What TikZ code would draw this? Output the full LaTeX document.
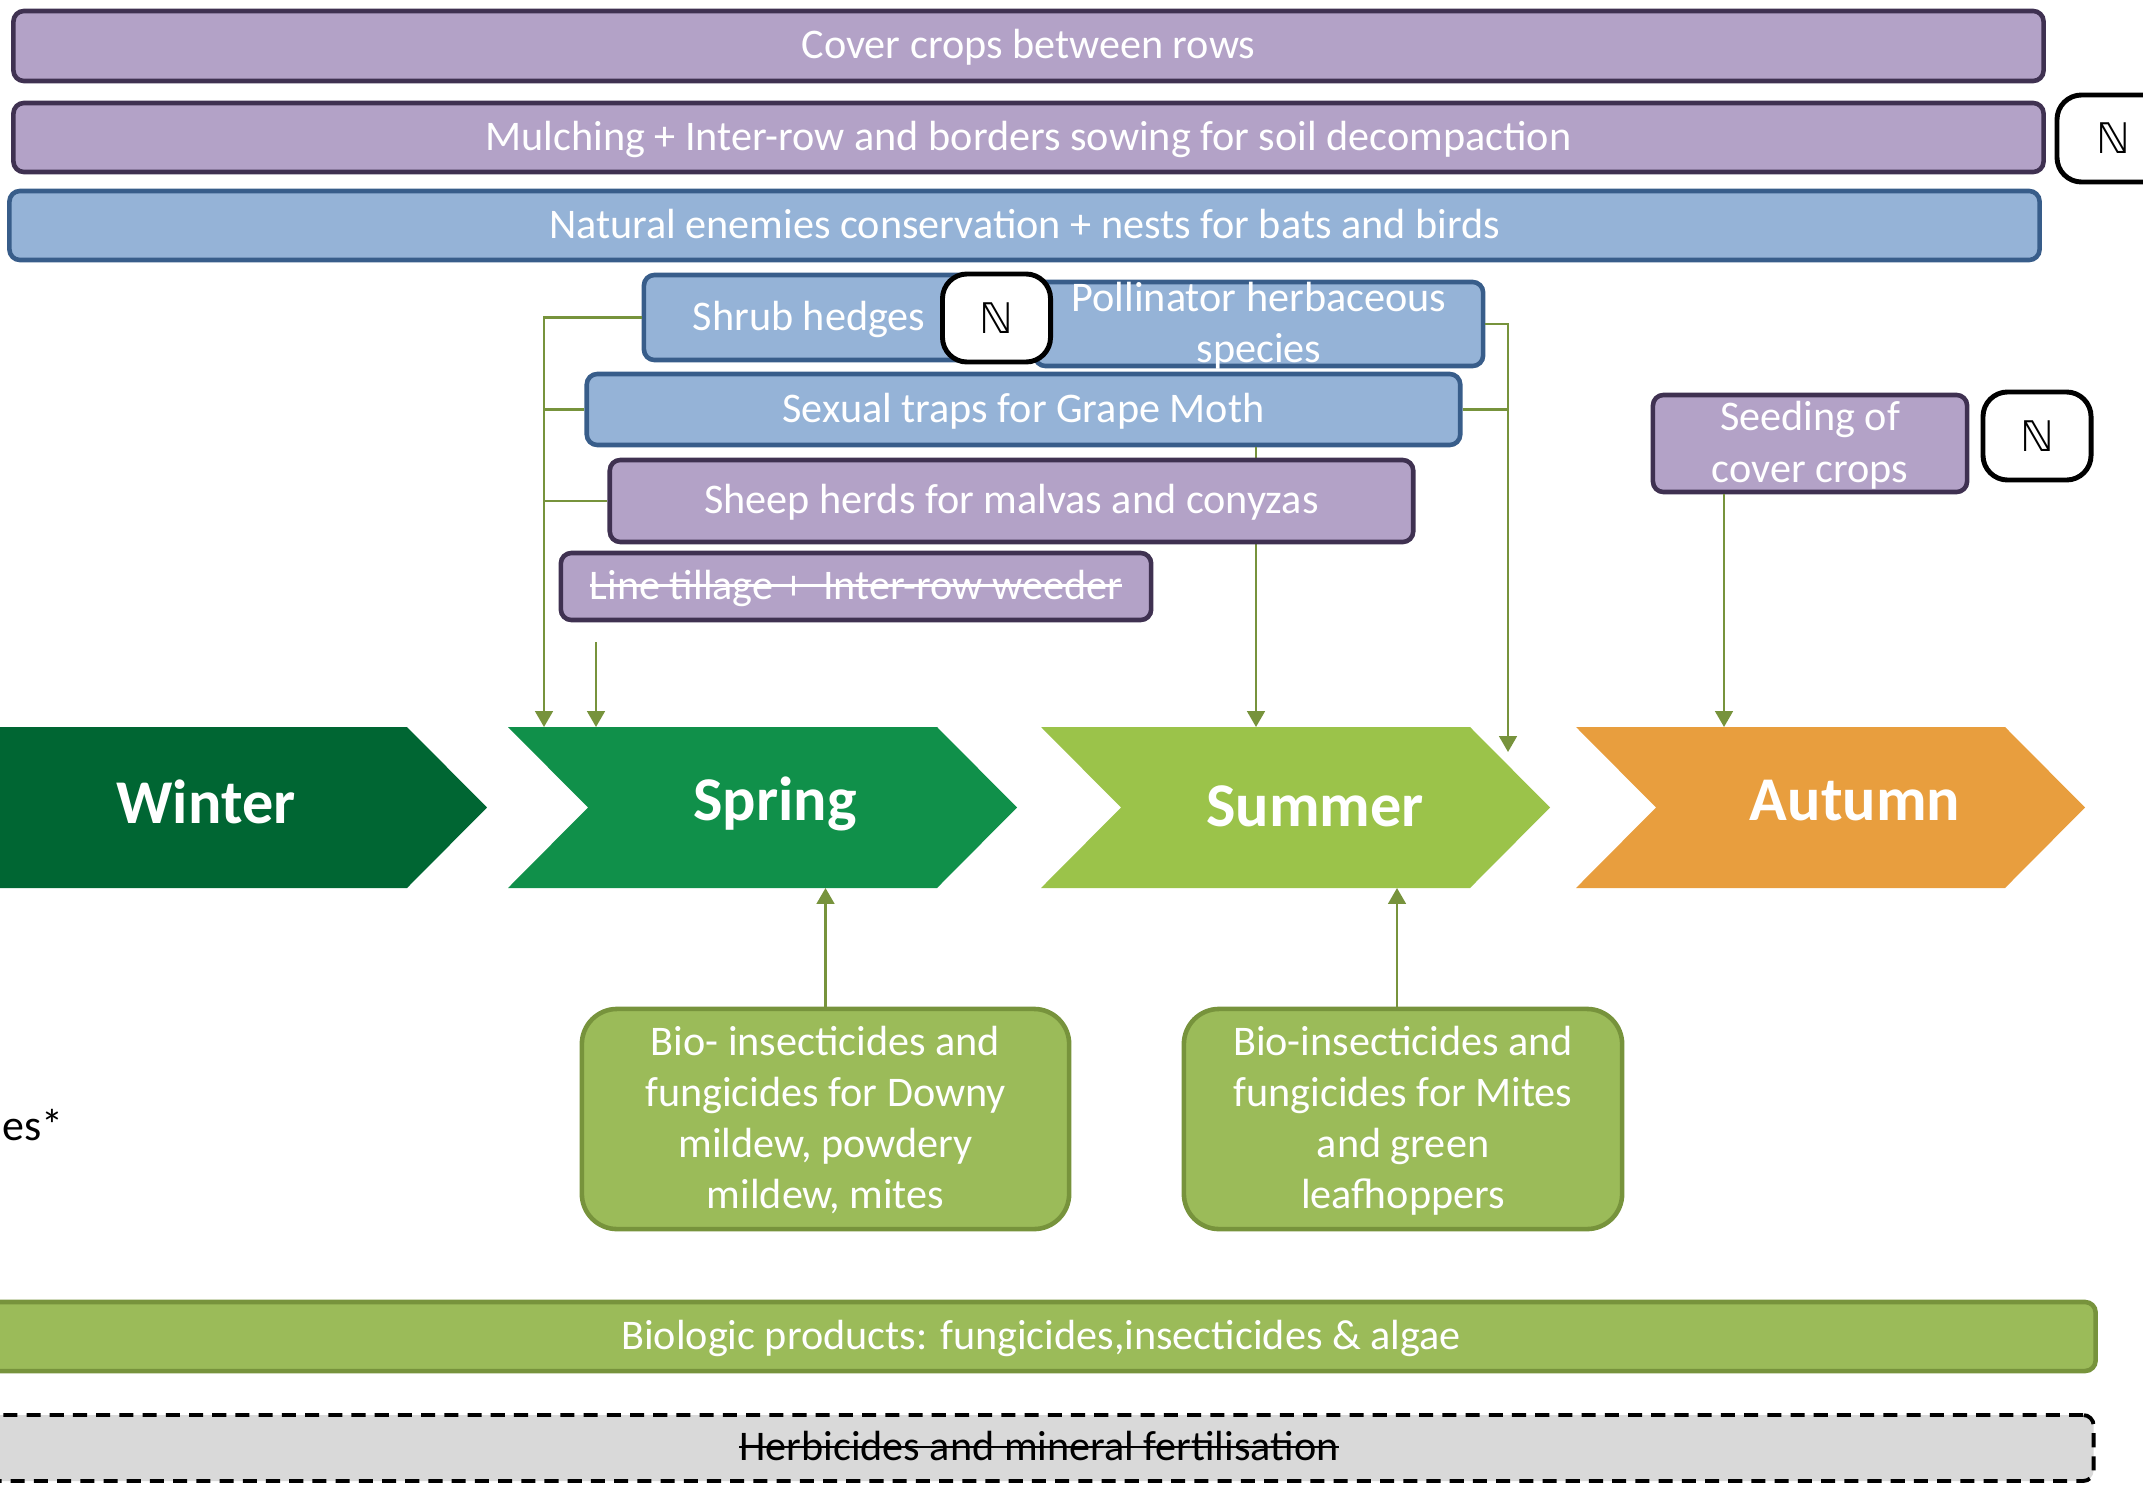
\documentclass[tikz,border=0pt]{standalone}
\usepackage{fontspec}
\setmainfont{Carlito}
\newfontfamily\symbfont{DejaVu Sans}
\usetikzlibrary{arrows.meta}

\definecolor{purplefill}{HTML}{B3A2C7}
\definecolor{purpledraw}{HTML}{3F3151}
\definecolor{bluefill}{HTML}{95B3D7}
\definecolor{bluedraw}{HTML}{385D8A}
\definecolor{greenfill}{HTML}{9BBB59}
\definecolor{greendraw}{HTML}{77933C}
\definecolor{linkgreen}{HTML}{77933C}
\definecolor{wintergreen}{HTML}{006633}
\definecolor{springgreen}{HTML}{10904A}
\definecolor{summergreen}{HTML}{9BC34A}
\definecolor{autumnorange}{HTML}{E89E3E}
\definecolor{herbifill}{HTML}{D9D9D9}

% Struck-out text
\newsavebox\strikebox
\newcommand\strikeout[1]{\sbox\strikebox{#1}\rlap{\usebox\strikebox}\rule[0.3em]{\wd\strikebox}{0.06em}}

\begin{document}
\begin{tikzpicture}[
        %Pixel units of the page, y going down
        x=0.01cm, y=-0.01cm,
        box/.style={rounded corners=3pt, line width=1.3pt, inner sep=0pt, text=white,
            align=center, text depth=0.1em, font=\fontsize{12}{14.5}\selectfont},
        purple box/.style={box, fill=purplefill, draw=purpledraw},
        blue box/.style={box, fill=bluefill, draw=bluedraw},
        green box/.style={box, fill=greenfill, draw=greendraw},
        bio box/.style={green box, rounded corners=10pt},
        n box/.style={rounded corners=7pt, line width=1.4pt, draw=black, fill=white,
            inner sep=0pt, minimum width=1.08cm, minimum height=0.88cm,
            font=\symbfont\fontsize{12}{14}\selectfont},
        season/.style={text=white, anchor=base, font=\fontsize{17.7}{20}\selectfont\bfseries},
        link/.style={draw=linkgreen, line width=0.7pt},
        arrow line/.style={link, -{Triangle[width=5pt,length=4.5pt]}}
     ]
    \useasboundingbox (0,0) rectangle (2143,1485);
    \clip (0,0) rectangle (2143,1485);

    % Bars over the whole year
    \node[purple box, minimum width=20.29cm, minimum height=0.70cm] (cover) at (1028.5,46) {Cover crops between rows};
    \node[purple box, minimum width=20.29cm, minimum height=0.69cm] (mulch) at (1028.5,137.5)
        {Mulching + Inter-row and borders sowing for soil decompaction};
    \node[n box, minimum width=1.12cm, minimum height=0.87cm] (n mulch) at (2113,138.5) {ℕ};
    \node[blue box, minimum width=20.29cm, minimum height=0.69cm] (enemies) at (1024.5,225.5)
        {Natural enemies conservation + nests for bats and birds};

    % Measures in spring and summer
    \node[blue box, minimum width=3.30cm, minimum height=0.85cm] (shrub) at (809,317.5) {Shrub hedges};
    \node[blue box, minimum width=4.48cm, minimum height=0.84cm] (poll) at (1259,324)
        {Pollinator herbaceous\\species};
    \node[n box] (n shrub) at (996.5,318) {ℕ};
    \node[blue box, minimum width=8.73cm, minimum height=0.71cm] (traps) at (1023.5,409.5)
        {Sexual traps for Grape Moth};

    % Important coordinates are defined
    \coordinate (spring top a) at (544,727);
    \coordinate (spring top b) at (596,727);
    \coordinate (tillage end) at (596,642);
    \coordinate (summer top) at (1256,727);
    \coordinate (summer edge) at (1508,752);
    \coordinate (autumn top) at (1724,727);
    \coordinate (spring bottom) at (825,888);
    \coordinate (summer bottom) at (1397,888);

    \draw[arrow line] (traps.south -| summer top) -- (summer top);
    \node[purple box, minimum width=8.03cm, minimum height=0.82cm] (sheep) at (1011.5,501)
        {Sheep herds for malvas and conyzas};
    \node[purple box, minimum width=5.90cm, minimum height=0.67cm] (tillage) at (856,586.5)
        {\strikeout{Line tillage +\ \ Inter-row weeder}};

    % Autumn
    \node[purple box, minimum width=3.14cm, minimum height=0.97cm,
        font=\fontsize{12}{14.8}\selectfont] (seed) at (1810,443.5) {Seeding of\\cover crops};
    \node[n box] (n seed) at (2037,436) {ℕ};

    % Seasons
    \fill[wintergreen] (-100,727) -- (407,727) -- (487,807.5) -- (407,888) -- (-100,888) -- cycle;
    \foreach \sx/\scol in {508/springgreen, 1041/summergreen, 1576/autumnorange}
        \fill[\scol] (\sx,727) -- ++(429,0) -- ++(80,80.5) -- ++(-80,80.5) -- ++(-429,0) -- ++(80,-80.5) -- cycle;
    \node[season] (winter) at (206,823) {Winter};
    \node[season] (spring) at (775,820) {Spring};
    \node[season] (summer) at (1315,826) {Summer};
    \node[season] (autumn) at (1855,820) {Autumn};

    % Connectors to the seasons
    \draw[arrow line] (shrub.west) -| (spring top a);
    \draw[link] (traps.west) -- (traps.west -| spring top a);
    \draw[link] (sheep.west) -- (sheep.west -| spring top a);
    \draw[arrow line] (tillage end) -- (spring top b);
    \draw[arrow line] (poll.east) -| (summer edge);
    \draw[link] (traps.east) -- (traps.east -| summer edge);
    \draw[arrow line] (seed.south -| autumn top) -- (autumn top);

    % Biologic treatments
    \node[bio box, minimum width=4.87cm, minimum height=2.20cm] (bio spring) at (825.5,1119)
        {Bio- insecticides and\\fungicides for Downy\\mildew, powdery\\mildew, mites};
    \node[bio box, minimum width=4.38cm, minimum height=2.20cm] (bio summer) at (1403,1119)
        {Bio-insecticides and\\fungicides for Mites\\and green\\leafhoppers};
    \draw[arrow line] (bio spring.north) -- (bio spring.north |- spring bottom);
    \draw[arrow line] (summer bottom |- bio summer.north) -- (summer bottom);

    \node[anchor=base west, inner sep=0pt, font=\fontsize{12.5}{15}\selectfont] (species) at (2,1140) {es*};

    % Bottom bars
    \node[green box, minimum width=21.08cm, minimum height=0.69cm] (products) at (1041,1336.5)
        {Biologic products: fungicides,insecticides \& algae};
    \node[box, fill=herbifill, draw=black, dashed, dash pattern=on 4pt off 2.6pt, line width=1.1pt,
        text=black, minimum width=21.08cm, minimum height=0.66cm] (herbi) at (1039,1448)
        {\strikeout{Herbicides and mineral fertilisation}};
\end{tikzpicture}
\end{document}
